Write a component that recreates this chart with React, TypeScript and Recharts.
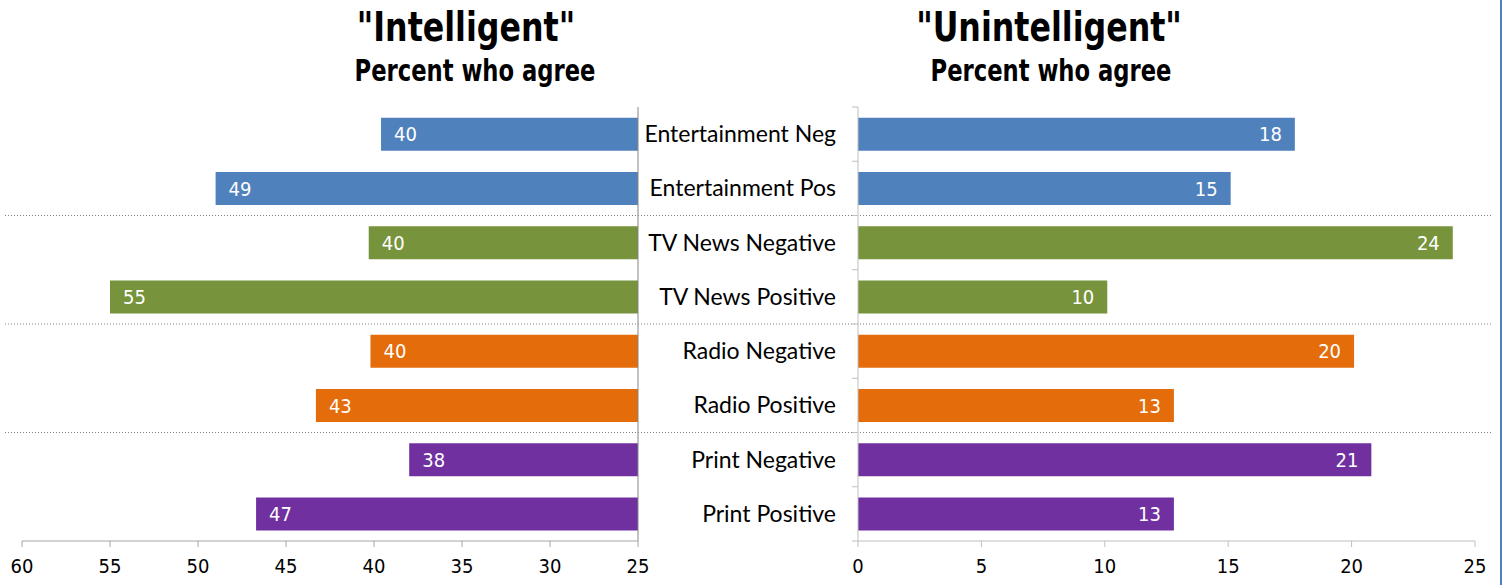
import { BarChart, Bar, XAxis, YAxis, CartesianGrid, Cell, LabelList, ReferenceLine } from "recharts";

const categories = [
  "Entertainment Neg",
  "Entertainment Pos",
  "TV News Negative",
  "TV News Positive",
  "Radio Negative",
  "Radio Positive",
  "Print Negative",
  "Print Positive",
];
const groups = ["Entertainment", "Entertainment", "TV News", "TV News", "Radio", "Radio", "Print", "Print"];
const intelligent = [39.6, 49.0, 40.3, 55.0, 40.2, 43.3, 38.0, 46.7];
const unintelligent = [17.7, 15.1, 24.1, 10.1, 20.1, 12.8, 20.8, 12.8];
const leftTicks = [25, 30, 35, 40, 45, 50, 55, 60];
const rightTicks = [0, 5, 10, 15, 20, 25];

const groupColors: Record<string, string> = {
  Entertainment: "#4f81bd",
  "TV News": "#77933c",
  Radio: "#e46c0a",
  Print: "#7030a0",
};

const data = categories.map((name, i) => ({
  name,
  group: groups[i],
  intelligent: intelligent[i],
  unintelligent: unintelligent[i],
}));

// layout
const W = 1507;
const H = 585;
const TOP = 107;
const XAXIS_H = 30;
const BOTTOM = 14;
const PLOT_H = H - TOP - BOTTOM - XAXIS_H;
const BAND = PLOT_H / categories.length;
const RIGHT_AXIS_X = 858;

const NARROW = '"Liberation Sans Narrow", "Arial Narrow", "DejaVu Sans Condensed", sans-serif';
const LABEL_FONT = 'Lato, "Noto Sans", sans-serif';

// dotted separators between the media groups
const groupBreaks = groups
  .map((g, i) => (i > 0 && g !== groups[i - 1] ? i : -1))
  .filter((i) => i > 0);

const tickStyle = { fill: "#000", fontSize: 20, fontFamily: NARROW };

function LeftLabel(props: any) {
  const { x, y, width, height, value } = props;
  const left = Math.min(x, x + width);
  return (
    <text x={left + 13} y={y + height / 2} dy="0.36em" fill="#fff" fontSize={20} fontFamily={NARROW}>
      {Math.round(value)}
    </text>
  );
}

function RightLabel(props: any) {
  const { x, y, width, height, value } = props;
  const right = Math.max(x, x + width);
  return (
    <text x={right - 13} y={y + height / 2} dy="0.36em" textAnchor="end" fill="#fff" fontSize={20} fontFamily={NARROW}>
      {Math.round(value)}
    </text>
  );
}

function CategoryTick(props: any) {
  const { y, payload, index } = props;
  return (
    <g>
      <line x1={RIGHT_AXIS_X - 6} x2={RIGHT_AXIS_X} y1={y - BAND / 2} y2={y - BAND / 2} stroke="#bfbfbf" />
      {index === categories.length - 1 && (
        <line x1={RIGHT_AXIS_X - 6} x2={RIGHT_AXIS_X} y1={y + BAND / 2} y2={y + BAND / 2} stroke="#bfbfbf" />
      )}
      <text x={RIGHT_AXIS_X - 22} y={y} dy="0.35em" textAnchor="end" fill="#000" fontSize={23} fontFamily={LABEL_FONT}>
        {payload.value}
      </text>
    </g>
  );
}

const titleStyle = {
  position: "absolute" as const,
  fontFamily: NARROW,
  fontWeight: 700,
  color: "#000",
  textAlign: "center" as const,
  width: 400,
  whiteSpace: "nowrap" as const,
  transformOrigin: "center",
};

export default function App() {
  return (
    <div style={{ position: "absolute", left: 0, top: 0, width: W, height: H, background: "#fff", overflow: "hidden" }}>
      <div style={{ ...titleStyle, left: 466 - 200, top: 2, fontSize: 40, lineHeight: "50px", transform: "scaleX(0.88)" }}>
        "Intelligent"
      </div>
      <div style={{ ...titleStyle, left: 475 - 200, top: 52, fontSize: 30, lineHeight: "38px", transform: "scaleX(0.84)" }}>
        Percent who agree
      </div>
      <div style={{ ...titleStyle, left: 1049 - 200, top: 2, fontSize: 40, lineHeight: "50px", transform: "scaleX(0.88)" }}>
        "Unintelligent"
      </div>
      <div style={{ ...titleStyle, left: 1051 - 200, top: 52, fontSize: 30, lineHeight: "38px", transform: "scaleX(0.84)" }}>
        Percent who agree
      </div>

      <div style={{ position: "absolute", left: 0, top: 0 }}>
        <BarChart
          width={W}
          height={H}
          data={data}
          layout="vertical"
          barCategoryGap="19.6%"
          margin={{ top: TOP, right: W - 638, bottom: BOTTOM, left: 22 }}
        >
          <CartesianGrid
            x={5}
            width={1487}
            vertical={false}
            stroke="#808080"
            strokeDasharray="1 2"
            horizontalCoordinatesGenerator={() => groupBreaks.map((i) => TOP + BAND * i)}
          />
          <XAxis
            type="number"
            domain={[25, 60]}
            ticks={leftTicks}
            reversed
            height={XAXIS_H}
            axisLine={{ stroke: "#a6a6a6" }}
            tickLine={{ stroke: "#a6a6a6" }}
            tickSize={6}
            tickMargin={12}
            tick={tickStyle}
          />
          <YAxis type="category" dataKey="name" hide />
          <Bar dataKey="intelligent" isAnimationActive={false}>
            {data.map((d) => (
              <Cell key={d.name} fill={groupColors[d.group]} />
            ))}
            <LabelList dataKey="intelligent" content={LeftLabel} />
          </Bar>
          <ReferenceLine x={25} stroke="#868686" />
        </BarChart>
      </div>

      <div style={{ position: "absolute", left: 0, top: 0 }}>
        <BarChart
          width={W}
          height={H}
          data={data}
          layout="vertical"
          barCategoryGap="19.6%"
          margin={{ top: TOP, right: W - 1475, bottom: BOTTOM, left: 640 }}
        >
          <XAxis
            type="number"
            domain={[0, 25]}
            ticks={rightTicks}
            height={XAXIS_H}
            axisLine={{ stroke: "#bfbfbf" }}
            tickLine={{ stroke: "#bfbfbf" }}
            tickSize={6}
            tickMargin={12}
            tick={tickStyle}
          />
          <YAxis
            type="category"
            dataKey="name"
            width={RIGHT_AXIS_X - 640}
            axisLine={{ stroke: "#bfbfbf" }}
            tickLine={false}
            tick={CategoryTick}
            interval={0}
          />
          <Bar dataKey="unintelligent" isAnimationActive={false}>
            {data.map((d) => (
              <Cell key={d.name} fill={groupColors[d.group]} />
            ))}
            <LabelList dataKey="unintelligent" content={RightLabel} />
          </Bar>
        </BarChart>
      </div>

      <div style={{ position: "absolute", left: 1500, top: 0, width: 2, height: H, background: "#4f81bd" }} />
    </div>
  );
}
